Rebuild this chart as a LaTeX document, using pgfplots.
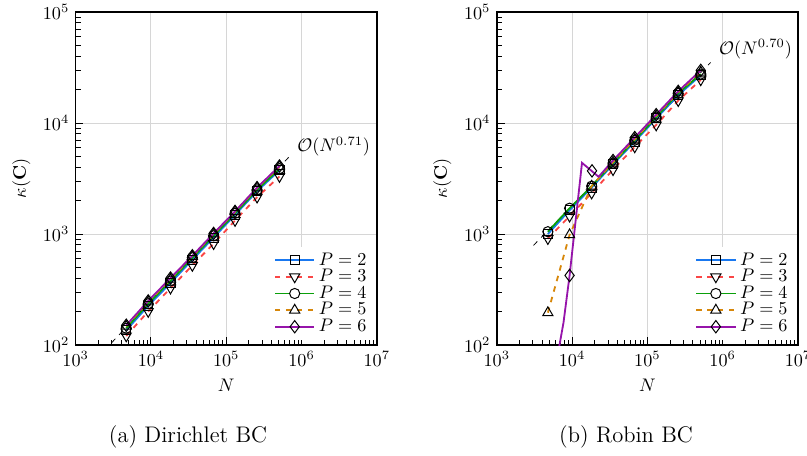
\documentclass[border=0pt]{standalone}
\usepackage{pgfplots}
\pgfplotsset{compat=1.18}
\definecolor{cblue}{RGB}{25,120,240}
\definecolor{cred}{RGB}{250,70,70}
\definecolor{cgreen}{RGB}{10,160,10}
\definecolor{corange}{RGB}{215,135,10}
\definecolor{cpurple}{RGB}{150,20,170}
\pgfplotsset{
  every axis/.append style={
    scale only axis,
    width=165.6pt, height=183.2pt,
    xmin=1e3, xmax=1e7, ymin=1e2, ymax=1e5,
    xtick={1e3,1e4,1e5,1e6,1e7}, ytick={1e2,1e3,1e4,1e5},
    tick pos=left, grid=major,
    major grid style={black!16, line width=0.5pt},
    axis line style={line width=0.8pt},
    every tick/.style={black, line width=0.5pt},
    xlabel={$N$}, ylabel={$\kappa(\mathbf{C})$},
    legend cell align=left,
    legend style={draw=none, fill=white, row sep=-3.2pt, inner sep=1pt,
      at={(0.985,0.015)}, anchor=south east},
  },
  legend image code/.code={\draw[mark repeat=2,mark phase=2,#1] plot coordinates {(0cm,0cm) (0.38cm,0cm) (0.76cm,0cm)};},
}
\tikzset{
  sPtwo/.style={color=cblue, solid, line width=1pt, mark=square, mark size=2.5pt, mark options={draw=black, solid, line width=0.55pt, fill=none}},
  sPthree/.style={color=cred, dashed, line width=1pt, mark=triangle, mark size=3.2pt, mark options={draw=black, solid, line width=0.55pt, fill=none, rotate=180}},
  sPfour/.style={color=cgreen, solid, line width=1pt, mark=o, mark size=2.8pt, mark options={draw=black, solid, line width=0.55pt, fill=none}},
  sPfourleg/.style={color=cgreen, solid, line width=1pt, mark=*, mark size=2.8pt, mark options={draw=black, fill=white, solid, line width=0.55pt}},
  sPfive/.style={color=corange, dashed, line width=1pt, mark=triangle, mark size=3.2pt, mark options={draw=black, solid, line width=0.55pt, fill=none}},
  sPsix/.style={color=cpurple, solid, line width=1pt, mark=diamond, mark size=3.4pt, mark options={draw=black, solid, line width=0.55pt, fill=none}},
}
\begin{document}
\begin{tikzpicture}
\begin{loglogaxis}[at={(0pt,0pt)}, anchor=south west]
\addlegendimage{sPtwo}\addlegendentry{$P=2$}
\addlegendimage{sPthree}\addlegendentry{$P=3$}
\addlegendimage{sPfourleg}\addlegendentry{$P=4$}
\addlegendimage{sPfive}\addlegendentry{$P=5$}
\addlegendimage{sPsix}\addlegendentry{$P=6$}
\addplot[black, dashed, line width=0.4pt, forget plot] coordinates {(3000,105) (710000,5090)};
\addplot[sPtwo, forget plot] coordinates {(4700,136) (9200,226) (18200,362) (35500,588) (68000,930) (131000,1490) (257000,2430) (510000,3760)};
\addplot[sPthree, forget plot] coordinates {(4700,121) (9200,201) (18200,326) (35500,522) (68000,820) (131000,1325) (257000,2150) (510000,3300)};
\addplot[sPfour, forget plot] coordinates {(4700,142) (9200,236) (18200,378) (35500,612) (68000,965) (131000,1535) (257000,2500) (510000,3880)};
\addplot[sPfive, forget plot] coordinates {(4700,148) (9200,245) (18200,392) (35500,630) (68000,1000) (131000,1590) (257000,2600) (510000,4050)};
\addplot[sPsix, forget plot] coordinates {(4700,151) (9200,250) (18200,402) (35500,638) (68000,1014) (131000,1600) (257000,2620) (510000,4100)};
\node[anchor=west, inner sep=0pt] at (axis cs:8.7e5,6100) {$\mathcal{O}(N^{0.71})$};
\end{loglogaxis}
\begin{loglogaxis}[at={(231.6pt,0pt)}, anchor=south west]
\addlegendimage{sPtwo}\addlegendentry{$P=2$}
\addlegendimage{sPthree}\addlegendentry{$P=3$}
\addlegendimage{sPfourleg}\addlegendentry{$P=4$}
\addlegendimage{sPfive}\addlegendentry{$P=5$}
\addlegendimage{sPsix}\addlegendentry{$P=6$}
\addplot[black, dashed, line width=0.4pt, forget plot] coordinates {(3070,791) (692000,35100)};
\addplot[sPtwo, forget plot] coordinates {(4770,1000) (9270,1640) (18200,2620) (35000,4250) (68000,6800) (131000,11000) (257000,17800) (512000,27000)};
\addplot[sPthree, forget plot] coordinates {(4770,910) (9270,1450) (18200,2340) (35000,3800) (68000,6100) (131000,9600) (257000,15900) (512000,24500)};
\addplot[sPfour, forget plot] coordinates {(4770,1050) (9270,1710) (18200,2700) (35000,4350) (68000,7000) (131000,11300) (257000,18500) (512000,27600)};
\addplot[sPfive, forget plot] coordinates {(4770,196) (9270,985) (18200,2700) (35000,4450) (68000,7150) (131000,11600) (257000,18900) (512000,28700)};
\addplot[sPsix, mark=none, forget plot] coordinates {(4770,26) (7700,160) (9270,424) (13550,4380) (22500,3280) (35000,4600) (68000,7400) (131000,11900) (257000,19300) (512000,29800)};
\addplot[sPsix, only marks, forget plot] coordinates {(9270,424) (18400,3710) (35000,4600) (68000,7400) (131000,11900) (257000,19300) (512000,29800)};
\node[anchor=west, inner sep=0pt] at (axis cs:8.9e5,46200) {$\mathcal{O}(N^{0.70})$};
\end{loglogaxis}
\node at (61.8pt,-50.6pt) {\fontsize{12.4}{15}\selectfont (a) Dirichlet BC};
\node at (302.7pt,-50.6pt) {\fontsize{12.4}{15}\selectfont (b) Robin BC};
\pgfresetboundingbox
\path[use as bounding box] (-41.6pt,-60.5pt) rectangle (402.2pt,189.8pt);
\end{tikzpicture}
\end{document}
